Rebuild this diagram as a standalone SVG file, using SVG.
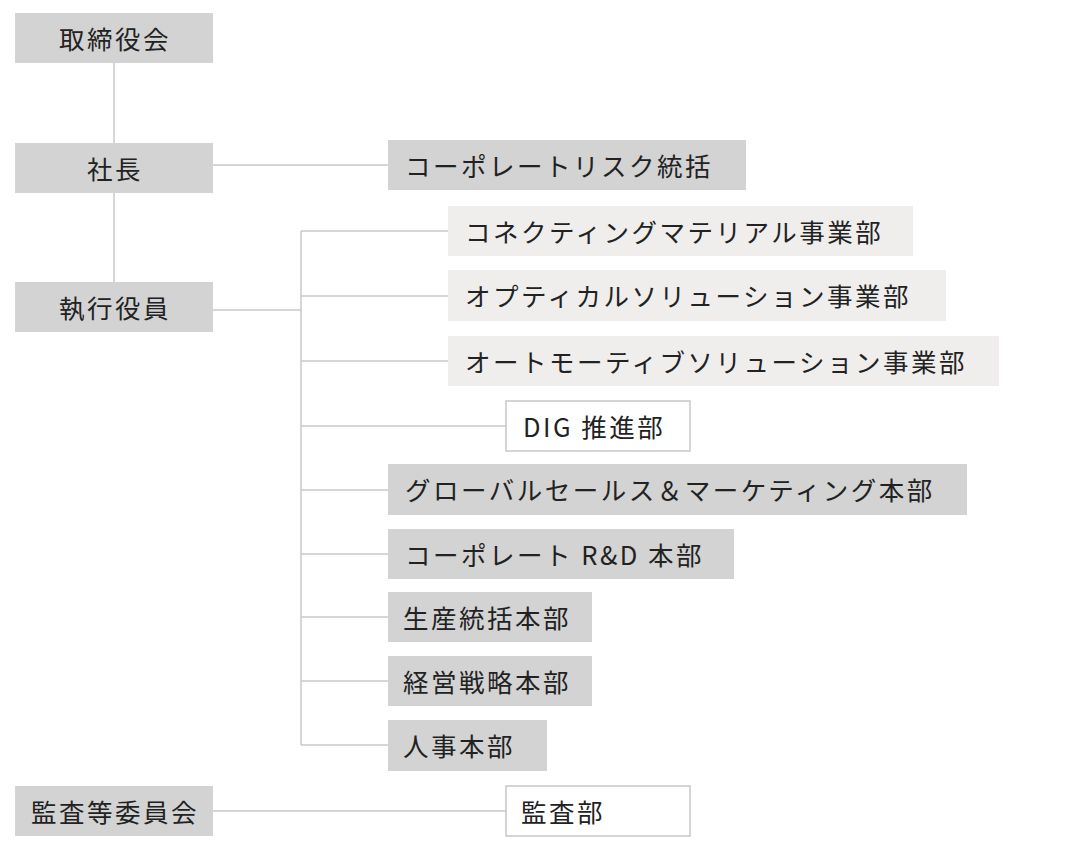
<svg xmlns="http://www.w3.org/2000/svg" width="1080" height="842" viewBox="0 0 1080 842">
<style>
text{font-family:"Noto Sans CJK JP","Noto Sans",sans-serif;font-size:25.5px;letter-spacing:2.5px;fill:#222;dominant-baseline:central}
.g{fill:#d2d3d2}.l{fill:#efeeed}.w{fill:#fff;stroke:#c8c8c8;stroke-width:1.5}
.c{text-anchor:middle}
#connectors line{stroke:#c8c8c8;stroke-width:1.5}
</style>
<rect width="1080" height="842" fill="#fff"/>
<g id="connectors">
<line x1="114" y1="63" x2="114" y2="143"/><line x1="114" y1="193" x2="114" y2="282"/>
<line x1="213" y1="165" x2="388" y2="165"/>
<line x1="213" y1="310" x2="301" y2="310"/>
<line x1="301" y1="231" x2="301" y2="745"/>
<line x1="301" y1="231" x2="448" y2="231"/><line x1="301" y1="296" x2="448" y2="296"/>
<line x1="301" y1="361" x2="448" y2="361"/><line x1="301" y1="426" x2="506" y2="426"/>
<line x1="301" y1="490" x2="388" y2="490"/><line x1="301" y1="554" x2="388" y2="554"/>
<line x1="301" y1="617" x2="388" y2="617"/><line x1="301" y1="681" x2="388" y2="681"/>
<line x1="301" y1="745" x2="388" y2="745"/>
<line x1="213" y1="811" x2="506" y2="811"/>
</g>
<g id="board"><rect class="g" x="15" y="13" width="198" height="50"/><text class="c" x="115" y="37">取締役会</text></g>
<g id="president"><rect class="g" x="15" y="143" width="198" height="50"/><text class="c" x="115" y="167">社長</text></g>
<g id="officers"><rect class="g" x="15" y="282" width="198" height="50"/><text class="c" x="115" y="306">執行役員</text></g>
<g id="audit"><rect class="g" x="15" y="786" width="198" height="50"/><text class="c" x="115" y="810">監査等委員会</text></g>
<g id="risk"><rect class="g" x="388" y="140" width="358" height="50"/><text x="405" y="164">コーポレートリスク統括</text></g>
<g id="cm"><rect class="l" x="448" y="206" width="465" height="50"/><text x="465" y="230">コネクティングマテリアル事業部</text></g>
<g id="os"><rect class="l" x="448" y="270" width="498" height="51"/><text x="465" y="294">オプティカルソリューション事業部</text></g>
<g id="as"><rect class="l" x="448" y="336" width="551" height="50"/><text x="465" y="360">オートモーティブソリューション事業部</text></g>
<g id="dig"><rect class="w" x="506" y="401" width="184" height="50"/><text x="523" y="425">DIG 推進部</text></g>
<g id="gsm"><rect class="g" x="388" y="464" width="579" height="51"/><text x="405" y="488">グローバルセールス＆マーケティング本部</text></g>
<g id="rd"><rect class="g" x="388" y="529" width="346" height="50"/><text x="405" y="553">コーポレート R&amp;D 本部</text></g>
<g id="prod"><rect class="g" x="388" y="592" width="204" height="50"/><text x="403" y="616">生産統括本部</text></g>
<g id="strat"><rect class="g" x="388" y="656" width="204" height="50"/><text x="403" y="680">経営戦略本部</text></g>
<g id="hr"><rect class="g" x="388" y="720" width="159" height="51"/><text x="403" y="744">人事本部</text></g>
<g id="auditdept"><rect class="w" x="506" y="786" width="184" height="50"/><text x="521" y="810">監査部</text></g>
</svg>
